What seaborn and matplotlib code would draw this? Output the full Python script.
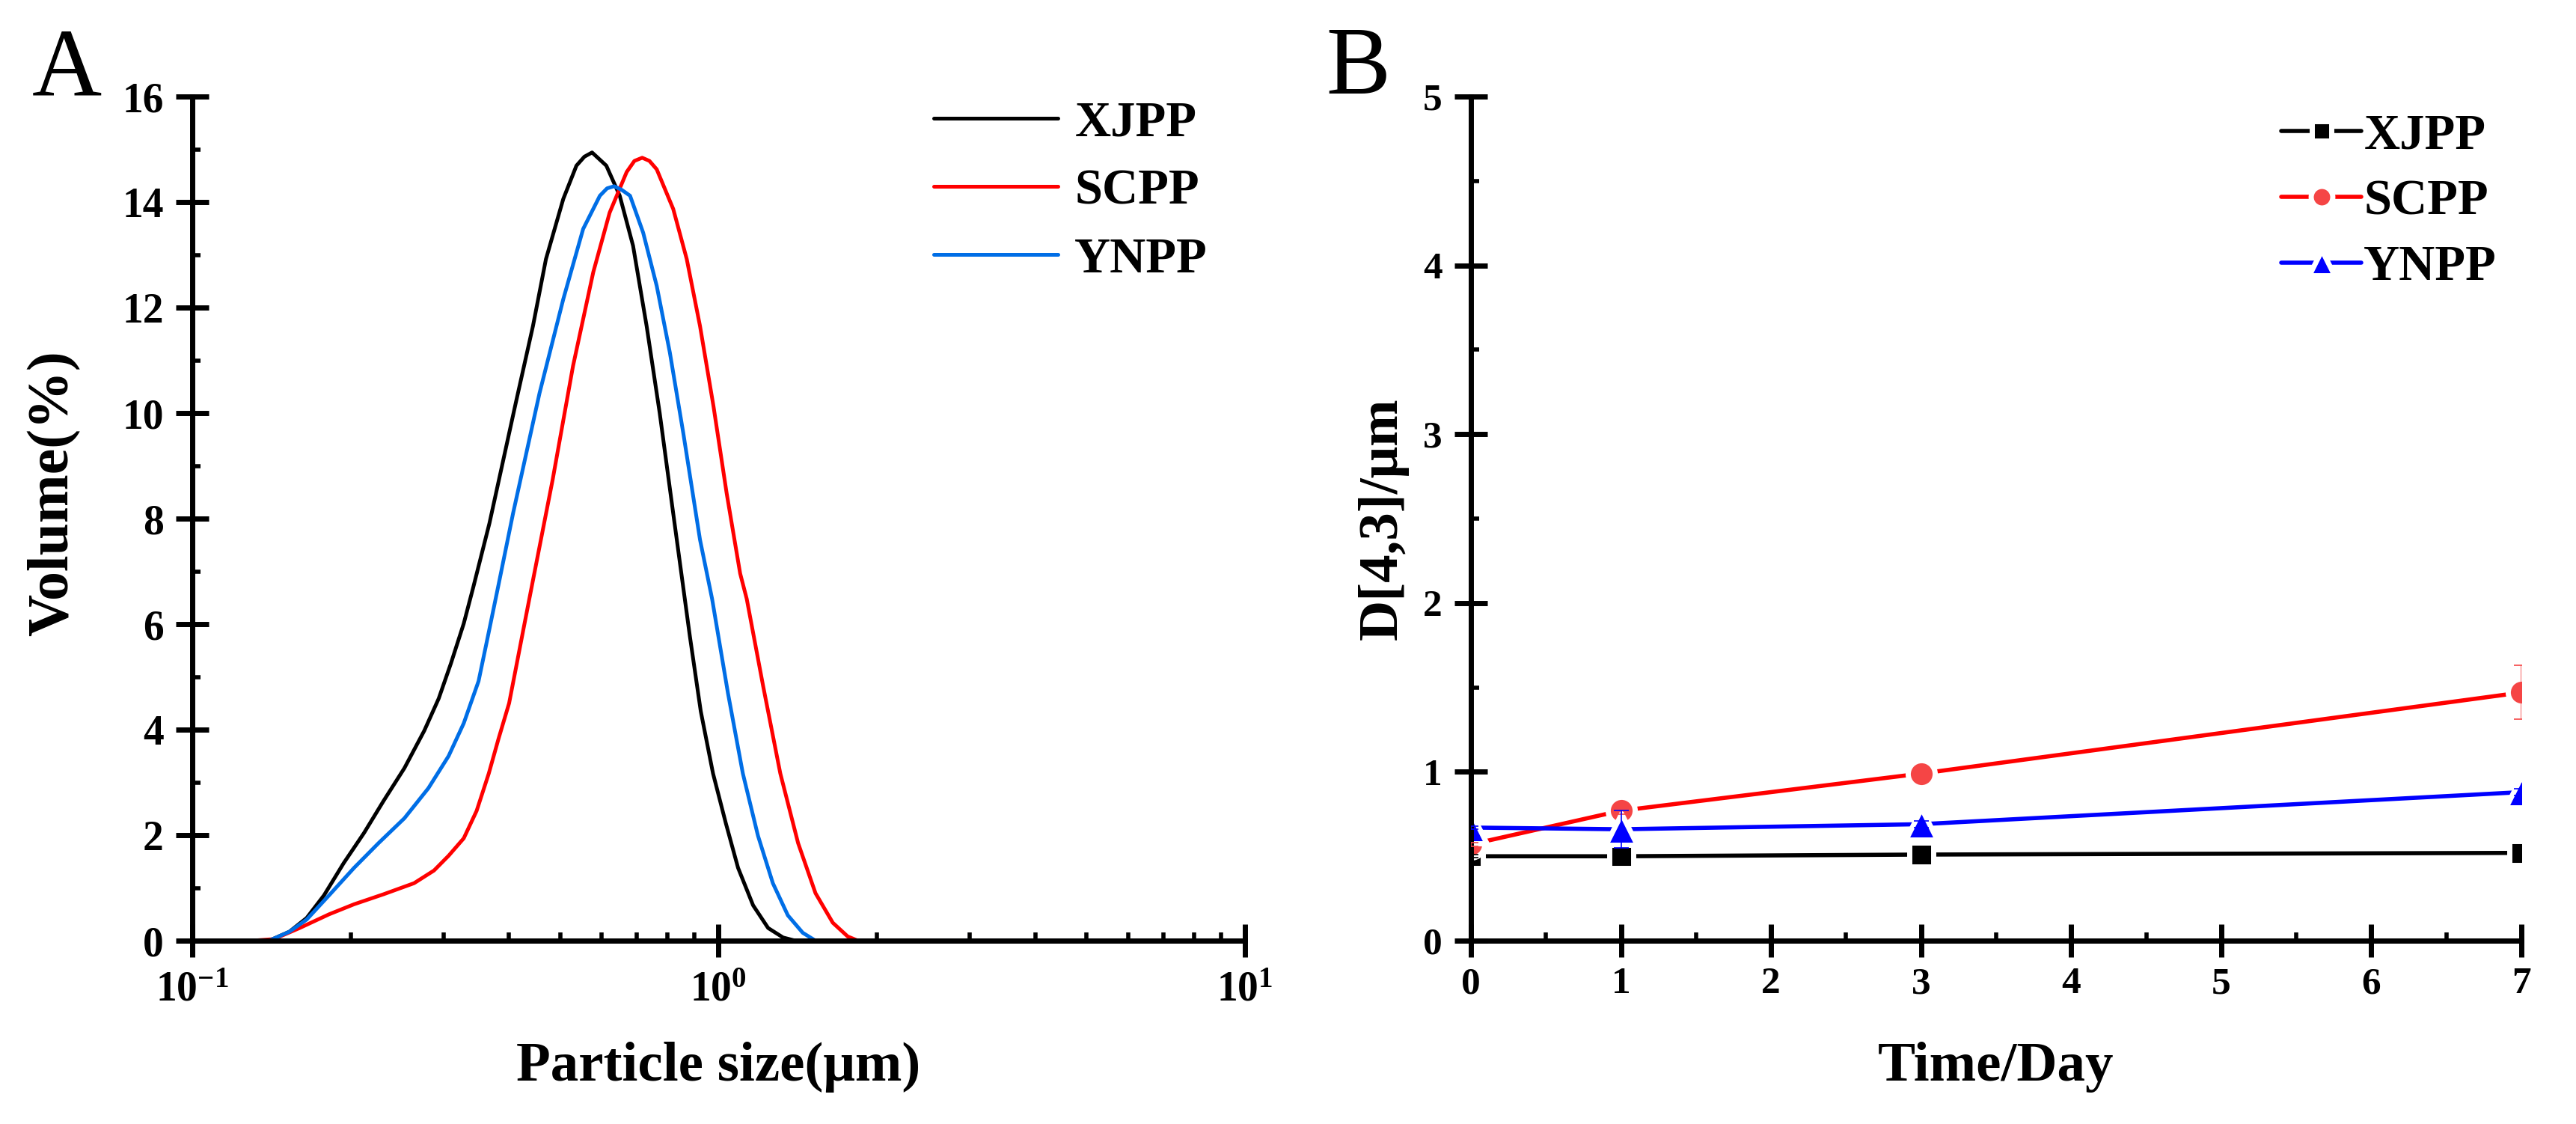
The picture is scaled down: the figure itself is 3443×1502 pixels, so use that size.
import matplotlib
matplotlib.use("Agg")
import matplotlib.pyplot as plt
from matplotlib.markers import MarkerStyle
from matplotlib.ticker import FixedLocator, LogLocator, MultipleLocator, NullFormatter
import pandas as pd
import seaborn as sns

# Panel A: particle size distribution (volume %)
xjpp_size = [0.100, 0.140, 0.153, 0.165, 0.178, 0.194, 0.212, 0.231, 0.253, 0.276,
             0.294, 0.310, 0.328, 0.342, 0.367, 0.412, 0.444, 0.470, 0.507, 0.537,
             0.556, 0.575, 0.594, 0.612, 0.649, 0.688, 0.730, 0.773, 0.820, 0.882,
             0.925, 0.976, 1.032, 1.089, 1.163, 1.242, 1.326, 1.399, 10.0]
xjpp_vol = [0, 0, 0.17, 0.43, 0.86, 1.47, 2.04, 2.65, 3.27, 3.98,
            4.59, 5.25, 6.01, 6.70, 7.91, 10.20, 11.65, 12.92, 14.06, 14.69,
            14.86, 14.94, 14.81, 14.69, 14.12, 13.17, 11.65, 10.00, 8.10, 5.77,
            4.35, 3.17, 2.23, 1.38, 0.67, 0.24, 0.06, 0, 0]

scpp_size = [0.100, 0.130, 0.143, 0.160, 0.182, 0.203, 0.231, 0.264, 0.288, 0.307,
             0.328, 0.347, 0.366, 0.382, 0.400, 0.412, 0.426, 0.443, 0.484, 0.529,
             0.578, 0.621, 0.669, 0.692, 0.716, 0.739, 0.763, 0.820, 0.870, 0.922,
             0.978, 1.036, 1.099, 1.131, 1.215, 1.310, 1.416, 1.528, 1.648, 1.759,
             1.840, 10.0]
scpp_vol = [0, 0, 0.03, 0.24, 0.50, 0.69, 0.88, 1.09, 1.33, 1.61,
            1.94, 2.46, 3.17, 3.83, 4.50, 5.16, 5.91, 6.78, 8.74, 10.89,
            12.67, 13.80, 14.57, 14.78, 14.84, 14.78, 14.62, 13.87, 12.92, 11.65,
            10.13, 8.48, 6.96, 6.48, 4.83, 3.17, 1.85, 0.90, 0.34, 0.08,
            0, 0]

ynpp_size = [0.100, 0.140, 0.153, 0.165, 0.182, 0.203, 0.226, 0.253, 0.281, 0.307,
             0.328, 0.350, 0.366, 0.382, 0.407, 0.457, 0.507, 0.553, 0.595, 0.614,
             0.633, 0.655, 0.679, 0.719, 0.763, 0.808, 0.857, 0.922, 0.972, 1.042,
             1.112, 1.188, 1.268, 1.354, 1.445, 1.528, 10.0]
ynpp_vol = [0, 0, 0.17, 0.40, 0.86, 1.38, 1.85, 2.32, 2.89, 3.50,
            4.12, 4.92, 5.85, 6.75, 8.10, 10.38, 12.16, 13.49, 14.12, 14.26,
            14.30, 14.23, 14.12, 13.42, 12.41, 11.15, 9.62, 7.60, 6.48, 4.69,
            3.17, 1.99, 1.09, 0.48, 0.15, 0, 0]

# Panel B: D[4,3] over storage time
days = [0, 1, 3, 7]
d43_xjpp = [0.50, 0.50, 0.51, 0.52]
d43_scpp = [0.57, 0.77, 0.99, 1.47]
d43_ynpp = [0.67, 0.66, 0.69, 0.88]
err_xjpp = [0.01, 0.01, 0.01, 0.01]
err_scpp = [0.01, 0.02, 0.02, 0.16]
err_ynpp = [0.01, 0.11, 0.02, 0.02]

samples = ["XJPP", "SCPP", "YNPP"]

sns.set_style("white")
plt.rcParams["font.family"] = ["Liberation Serif", "DejaVu Serif"]
plt.rcParams["font.weight"] = "bold"
plt.rcParams["axes.labelweight"] = "bold"
plt.rcParams["text.color"] = "black"
plt.rcParams["axes.labelcolor"] = "black"
plt.rcParams["xtick.color"] = "black"
plt.rcParams["ytick.color"] = "black"
plt.rcParams["mathtext.fontset"] = "custom"
plt.rcParams["mathtext.rm"] = "Liberation Serif:bold"
plt.rcParams["mathtext.bf"] = "Liberation Serif:bold"

fig = plt.figure(figsize=(34.43, 15.02), dpi=100)
ax_a = fig.add_axes([0.0746, 0.1631, 0.4087, 0.751])
ax_b = fig.add_axes([0.5710, 0.1631, 0.4078, 0.751])


def style_axes(ax, ticksize):
    for side in ["top", "right"]:
        ax.spines[side].set_visible(False)
    for side in ["left", "bottom"]:
        ax.spines[side].set_linewidth(5)
        ax.spines[side].set_color("black")
    ax.tick_params(which="both", bottom=True, left=True, top=False, right=False)
    ax.tick_params(which="major", direction="inout", length=31, width=5,
                   labelsize=ticksize, color="black", labelcolor="black")
    ax.tick_params(which="minor", direction="in", length=8, width=4, color="black")
    ax.tick_params(axis="y", which="major", pad=12)
    ax.tick_params(axis="x", which="major", pad=10)


# ---- Panel A ----
dist = pd.concat([
    pd.DataFrame({"size": xjpp_size, "volume": xjpp_vol, "sample": "XJPP"}),
    pd.DataFrame({"size": scpp_size, "volume": scpp_vol, "sample": "SCPP"}),
    pd.DataFrame({"size": ynpp_size, "volume": ynpp_vol, "sample": "YNPP"}),
])
ax_a.set_xscale("log")
sns.lineplot(data=dist, x="size", y="volume", hue="sample", hue_order=samples,
             palette=["black", "#FF0000", "#006EE6"], estimator=None,
             linewidth=3.6, ax=ax_a, clip_on=False)
ax_a.set_xlim(0.1, 10)
ax_a.set_ylim(0, 16)
ax_a.xaxis.set_major_locator(FixedLocator([0.1, 1, 10]))
ax_a.xaxis.set_minor_locator(LogLocator(base=10, subs=range(2, 10)))
ax_a.xaxis.set_minor_formatter(NullFormatter())
ax_a.yaxis.set_major_locator(MultipleLocator(2))
ax_a.yaxis.set_minor_locator(MultipleLocator(1))
style_axes(ax_a, 40)
ax_a.tick_params(axis="x", which="major", pad=14)
ax_a.set_xlabel("Particle size(μm)", fontsize=54, fontweight="bold")
ax_a.set_ylabel("Volume(%)", fontsize=56, fontweight="bold")
ax_a.xaxis.set_label_coords(0.5, -0.12)
ax_a.yaxis.set_label_coords(-0.106, 0.53)
ax_a.legend(loc="upper right", bbox_to_anchor=(0.9645, 0.995), frameon=False,
            fontsize=48, handlelength=2.5, handletextpad=0.33, labelspacing=0.45,
            borderpad=0, borderaxespad=0)

# ---- Panel B ----
series = [
    ("XJPP", d43_xjpp, err_xjpp, "black", "black", "s", 23),
    ("SCPP", d43_scpp, err_scpp, "#FF0000", "#F54545", "o", 26),
    ("YNPP", d43_ynpp, err_ynpp, "#0000FF", "#0000FF", "^", 30),
]
for name, vals, errs, lcol, mcol, mk, ms in series:
    sns.lineplot(x=days, y=vals, color=lcol, linewidth=4, label=name, ax=ax_b,
                 marker=MarkerStyle(mk, joinstyle="round"), markersize=ms,
                 markerfacecolor=mcol, markeredgecolor="white", markeredgewidth=5)
for name, vals, errs, lcol, mcol, mk, ms in series:
    ax_b.errorbar(days, vals, yerr=errs, fmt="none", ecolor=mcol, elinewidth=1.2,
                  capsize=7, capthick=1.2, zorder=5)
ax_b.set_xlim(0, 7)
ax_b.set_ylim(0, 5)
ax_b.xaxis.set_major_locator(MultipleLocator(1))
ax_b.xaxis.set_minor_locator(MultipleLocator(0.5))
ax_b.yaxis.set_major_locator(MultipleLocator(1))
ax_b.yaxis.set_minor_locator(MultipleLocator(0.5))
style_axes(ax_b, 37)
ax_b.set_xlabel("Time/Day", fontsize=54, fontweight="bold")
ax_b.set_ylabel("D[4,3]/μm", fontsize=54, fontweight="bold")
ax_b.xaxis.set_label_coords(0.5, -0.12)
ax_b.yaxis.set_label_coords(-0.059, 0.5)
ax_b.legend(loc="upper right", bbox_to_anchor=(0.9765, 0.98), frameon=False,
            fontsize=48, handlelength=1.6, handletextpad=0.05, labelspacing=0.4,
            borderpad=0, borderaxespad=0, markerscale=0.8)

fig.text(0.0125, 0.9154, "A", fontsize=93, fontweight="normal", va="baseline")
fig.text(0.5147, 0.9168, "B", fontsize=93, fontweight="normal", va="baseline")

fig.savefig("out.png", dpi=100)
